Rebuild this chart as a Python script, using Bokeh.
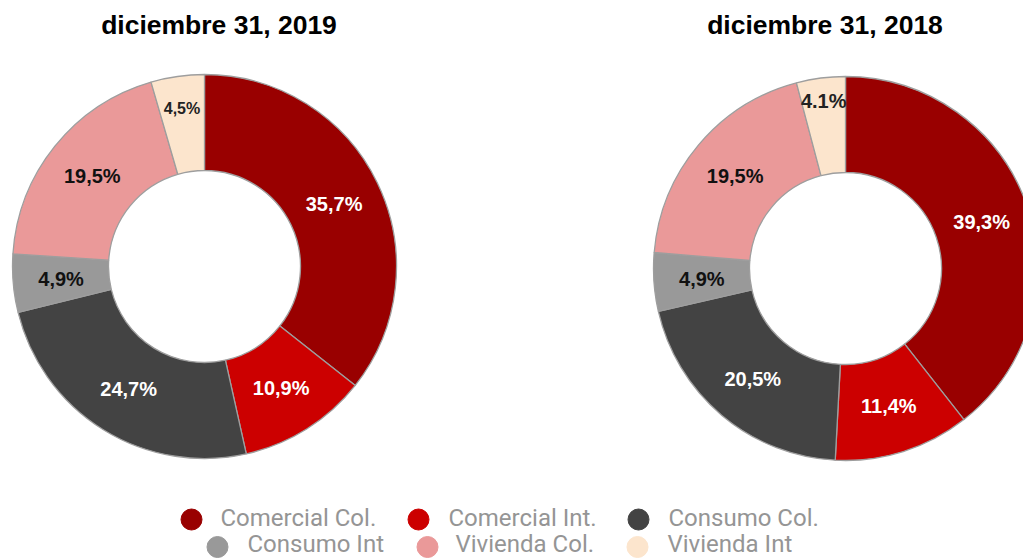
from math import pi, sin, cos
from bokeh.plotting import figure
from bokeh.models import Range1d, ColumnDataSource
from bokeh.core.properties import value
from bokeh.embed import file_html
from bokeh.resources import INLINE

# ---------------- data ----------------
categories = ["Comercial Col.", "Comercial Int.", "Consumo Col.",
              "Consumo Int", "Vivienda Col.", "Vivienda Int"]
values_2019 = [35.7, 10.9, 24.7, 4.9, 19.5, 4.5]
values_2018 = [39.3, 11.4, 20.5, 4.9, 19.5, 4.1]
labels_2019 = ["35,7%", "10,9%", "24,7%", "4,9%", "19,5%", "4,5%"]
labels_2018 = ["39,3%", "11,4%", "20,5%", "4,9%", "19,5%", "4.1%"]
titles = ["diciembre 31, 2019", "diciembre 31, 2018"]

# ---------------- styles ----------------
colors = ["#990000", "#cc0000", "#434343", "#999999", "#ea9999", "#fce5cd"]
label_colors = ["#ffffff", "#ffffff", "#ffffff", "#111111", "#111111", "#222222"]

W, H = 1023, 558
R_OUT, R_IN, R_LABEL = 192, 96, 144

charts = [
    dict(values=values_2019, labels=labels_2019, title=titles[0],
         cx=204, cy=H - 266, title_x=218.5, small={5: (160, "16px")}),
    dict(values=values_2018, labels=labels_2018, title=titles[1],
         cx=845, cy=H - 268, title_x=824.5, small={5: (169, "20px")}),
]

p = figure(width=W, height=H, x_range=Range1d(0, W), y_range=Range1d(0, H),
           output_backend="svg", toolbar_location=None, min_border=0,
           x_axis_location=None, y_axis_location=None)
p.grid.visible = False
p.outline_line_color = None
p.background_fill_color = "white"
p.border_fill_color = "white"

for ch in charts:
    vals = ch["values"]
    total = float(sum(vals))
    starts, ends, lx, ly, fsz = [], [], [], [], []
    cum = 0.0
    for i, v in enumerate(vals):
        a0 = cum / total * 2 * pi
        cum += v
        a1 = cum / total * 2 * pi
        # clockwise from the top
        starts.append(pi / 2 - a1)
        ends.append(pi / 2 - a0)
        mid = (a0 + a1) / 2
        r, fs = ch["small"].get(i, (R_LABEL, "20px"))
        lx.append(ch["cx"] + r * sin(mid))
        ly.append(ch["cy"] + r * cos(mid))
        fsz.append(fs)
    src = ColumnDataSource(dict(
        x=[ch["cx"]] * len(vals), y=[ch["cy"]] * len(vals),
        start=starts, end=ends, color=colors,
        lx=lx, ly=ly, label=ch["labels"], lcolor=label_colors, fsize=fsz))
    p.annular_wedge(x="x", y="y", inner_radius=R_IN, outer_radius=R_OUT,
                    start_angle="start", end_angle="end", direction="anticlock",
                    fill_color="color", line_color="#9e9e9e", line_width=1.3,
                    source=src)
    p.text(x="lx", y="ly", text="label", text_color="lcolor",
           text_font=value("Liberation Sans"), text_font_style="bold",
           text_font_size="fsize", text_align="center", text_baseline="middle",
           source=src)
    p.text(x=[ch["title_x"]], y=[H - 24], text=[ch["title"]],
           text_font=value("Liberation Sans"), text_font_style="bold",
           text_font_size="26.5px", text_color="black",
           text_align="center", text_baseline="middle")

# ---------------- legend (two centred rows) ----------------
leg_marker_x = [191, 418, 638, 217, 427, 637]
leg_marker_y = [H - 519] * 3 + [H - 546.5] * 3
leg_text_x = [220, 448, 668, 247, 455, 667]
leg_text_y = [H - 517.5] * 3 + [H - 543.5] * 3

p.scatter(x=leg_marker_x, y=leg_marker_y, marker="circle", size=21,
          fill_color=colors, line_color=colors)
p.text(x=leg_text_x, y=leg_text_y, text=categories,
       text_font=value("Roboto"), text_font_size="24px", text_color="#959595",
       text_align="left", text_baseline="middle")

open("out.html", "w").write(file_html(p, INLINE))
